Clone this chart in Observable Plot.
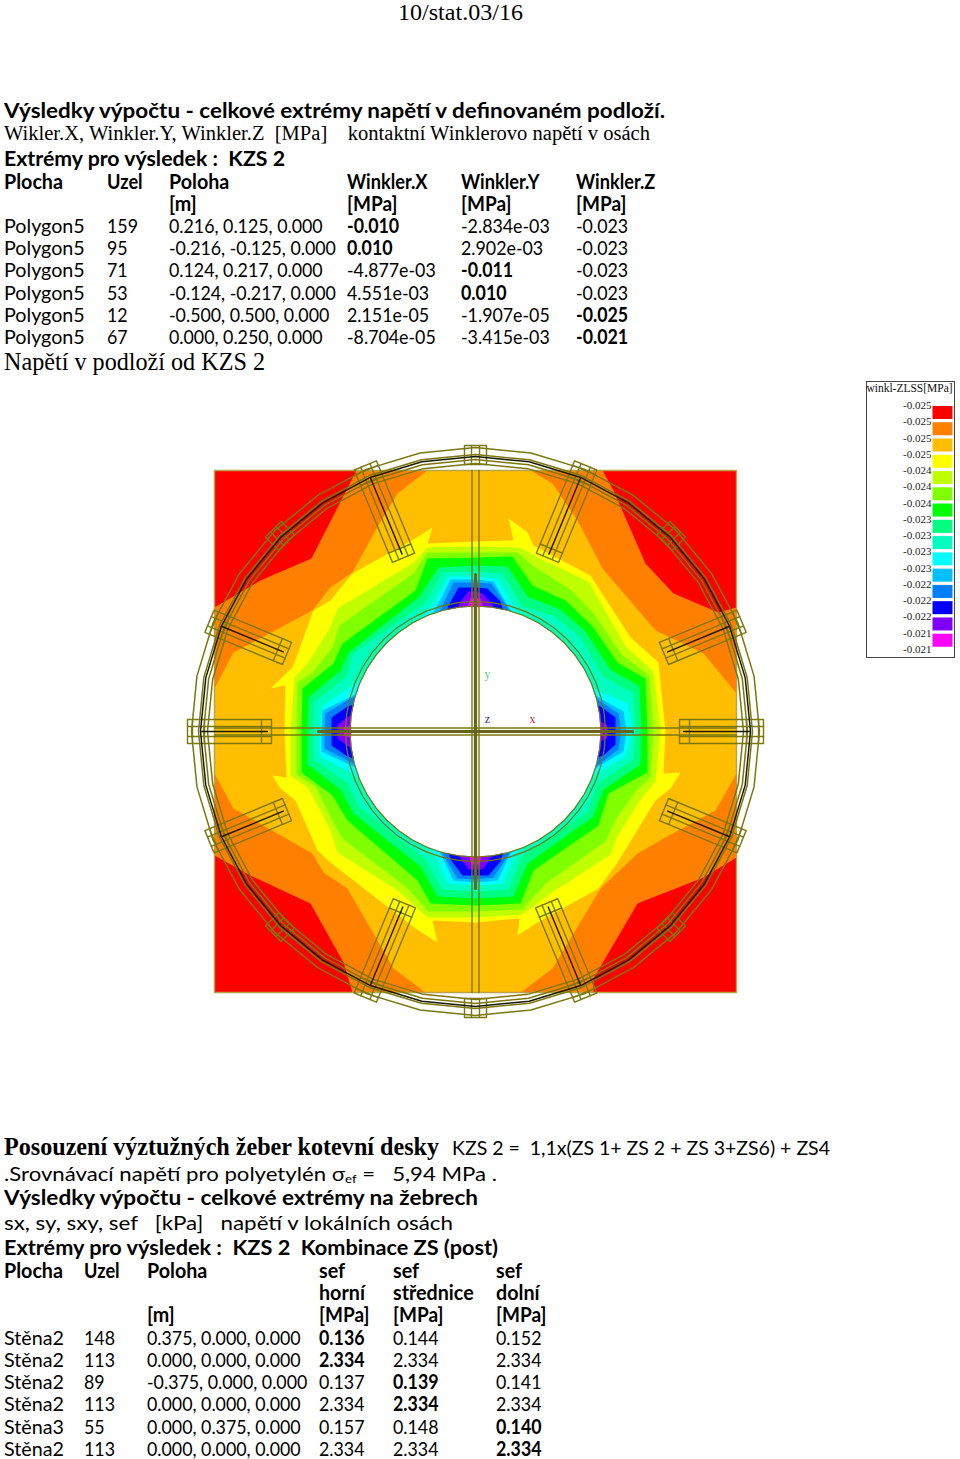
<!DOCTYPE html>
<html><head><meta charset="utf-8">
<script src="https://cdn.jsdelivr.net/npm/d3@7"></script>
<script src="https://cdn.jsdelivr.net/npm/@observablehq/plot@0.6"></script>
<style>
html,body{margin:0;padding:0;background:#fff}
#page{position:relative;width:960px;height:1459px;overflow:hidden;background:#fff;color:#000}
.t{position:absolute;white-space:pre;transform-origin:0 50%;line-height:1;font-family:Lato,"Open Sans",sans-serif;font-size:20px}
.b{font-weight:700}
.s{font-family:"Liberation Serif",serif}
sub{font-size:.6em;line-height:0;vertical-align:-.15em}
</style></head><body><div id="page"></div>
<script>
// ---------- text content ----------
const pageHeader = "10/stat.03/16";
const table1Head = [["Plocha","Uzel","Poloha","Winkler.X","Winkler.Y","Winkler.Z"],["","","[m]","[MPa]","[MPa]","[MPa]"]];
const table1Rows = [
 ["Polygon5","159","0.216, 0.125, 0.000","-0.010","-2.834e-03","-0.023"],
 ["Polygon5","95","-0.216, -0.125, 0.000","0.010","2.902e-03","-0.023"],
 ["Polygon5","71","0.124, 0.217, 0.000","-4.877e-03","-0.011","-0.023"],
 ["Polygon5","53","-0.124, -0.217, 0.000","4.551e-03","0.010","-0.023"],
 ["Polygon5","12","-0.500, 0.500, 0.000","2.151e-05","-1.907e-05","-0.025"],
 ["Polygon5","67","0.000, 0.250, 0.000","-8.704e-05","-3.415e-03","-0.021"]];
const table1Bold = [[0,3],[1,3],[2,4],[3,4],[4,5],[5,5]];
const table2Head = [["Plocha","Uzel","Poloha","sef","sef","sef"],["","","","horní","střednice","dolní"],["","","[m]","[MPa]","[MPa]","[MPa]"]];
const table2Rows = [
 ["Stěna2","148","0.375, 0.000, 0.000","0.136","0.144","0.152"],
 ["Stěna2","113","0.000, 0.000, 0.000","2.334","2.334","2.334"],
 ["Stěna2","89","-0.375, 0.000, 0.000","0.137","0.139","0.141"],
 ["Stěna2","113","0.000, 0.000, 0.000","2.334","2.334","2.334"],
 ["Stěna3","55","0.000, 0.375, 0.000","0.157","0.148","0.140"],
 ["Stěna2","113","0.000, 0.000, 0.000","2.334","2.334","2.334"]];
const table2Bold = [[0,3],[1,3],[2,4],[3,4],[4,5],[5,5]];

// ---------- legend ----------
const legendTitle = "winkl-ZLSS[MPa]";
const legendLabels = ["-0.025","-0.025","-0.025","-0.025","-0.024","-0.024","-0.024","-0.023","-0.023","-0.023","-0.023","-0.022","-0.022","-0.022","-0.021","-0.021"];
const bandNames = ["red","orange","amber","yellow","lime","chartreuse","green","spring","aqua","cyan","sky","azure","blue","violet","magenta"];
const bandColors = ["#ff0000","#ff8000","#ffbf00","#ffff00","#bfff00","#80ff00","#00ff00","#00ff80","#00ffbf","#00ffff","#00bfff","#0080ff","#0000ff","#8000ff","#ff00ff"];

// ---------- contour boundaries, in 1/522 m from the plate centre ----------
const contourRed = [[-261,261],[-261,-261],[261,-261],[261,261]];
const contourOrange = [[-119,261],[-164,173],[-215,151],[-261,124],[-261,-124],[-225,-144],[-165,-172],[-132,-231],[-123,-261],[118,-261],[118,-247],[162,-172],[228,-146],[261,-126],[261,124],[243,119],[198,138],[170,168],[138,241],[127,261]];
const contourAmber = [[-48,261],[-78,238],[-100,201],[-123,159],[-145,144],[-163,121],[-195,104],[-242,79],[-261,43],[-261,-42],[-242,-77],[-163,-122],[-152,-141],[-128,-157],[-98,-209],[-82,-237],[-50,-261],[45,-261],[77,-237],[98,-202],[125,-157],[162,-122],[188,-107],[240,-79],[261,-42],[261,38],[228,78],[180,101],[127,163],[102,211],[77,248],[55,261]];
const contourYellow = [[0,190],[-48,188],[-43,204],[-60,193],[-123,158],[-145,131],[-162,121],[-183,64],[-205,43],[-190,46],[-191,0],[-189,-46],[-203,-44],[-195,-57],[-180,-69],[-158,-119],[-145,-131],[-60,-197],[-38,-211],[-43,-189],[0,-191],[44,-187],[42,-204],[62,-191],[123,-157],[142,-131],[180,-69],[195,-57],[205,-41],[188,-42],[190,0],[183,69],[155,94],[115,156],[58,186],[52,199],[33,213],[38,191]];
const contourLime = [[0,185],[-48,184],[-63,168],[-138,123],[-147,101],[-168,68],[-181,54],[-185,0],[-185,-44],[-167,-57],[-145,-99],[-138,-121],[-78,-159],[-48,-186],[0,-186],[47,-183],[75,-162],[135,-123],[142,-105],[165,-68],[180,-50],[185,0],[178,60],[150,85],[113,150],[60,175],[45,184]];
const contourChartreuse = [[0,179],[-48,179],[-62,158],[-136,106],[-143,84],[-163,59],[-178,49],[-179,0],[-179,-43],[-160,-55],[-140,-95],[-132,-108],[-70,-155],[-47,-180],[0,-180],[47,-178],[70,-152],[130,-110],[140,-88],[160,-60],[175,-46],[178,0],[174,56],[146,77],[118,118],[95,142],[58,165],[42,179]];
const contourGreen = [[0,174],[-48,173],[-60,141],[-133,88],[-142,68],[-173,43],[-174,0],[-174,-41],[-143,-64],[-128,-89],[-58,-149],[-45,-172],[0,-174],[45,-172],[58,-139],[123,-94],[133,-62],[172,-41],[172,0],[170,53],[142,69],[118,104],[90,131],[57,146],[37,175]];
const contourSpring = [[0,166],[-37,164],[-57,134],[-127,79],[-135,61],[-167,34],[-168,0],[-168,-33],[-135,-58],[-122,-82],[-55,-135],[-38,-165],[0,-167],[38,-165],[52,-132],[118,-85],[128,-58],[165,-33],[166,0],[164,45],[135,62],[110,100],[85,122],[52,135],[32,165]];
const contourAqua = [[0,160],[-33,159],[-50,129],[-122,78],[-130,54],[-162,29],[-162,0],[-162,-28],[-128,-52],[-116,-76],[-50,-128],[-33,-158],[0,-160],[33,-158],[46,-125],[112,-80],[122,-52],[158,-28],[160,0],[158,38],[128,55],[104,95],[80,115],[47,125],[27,158]];
const contourCyan = [[0,155],[-27,155],[-42,128],[-80,80],[-124,45],[-153,26],[-156,0],[-156,-25],[-122,-42],[-80,-80],[-42,-122],[-27,-152],[0,-154],[27,-152],[40,-122],[80,-80],[116,-45],[150,-25],[157,0],[152,28],[120,42],[80,80],[40,122],[22,153]];
const contourSky = [[0,152],[-25,152],[-37,128],[-70,70],[-120,37],[-153,21],[-154,0],[-154,-20],[-120,-36],[-70,-70],[-36,-120],[-22,-149],[0,-151],[22,-149],[36,-120],[70,-70],[118,-38],[148,-20],[151,0],[148,20],[118,37],[70,70],[36,120],[18,150]];
const contourAzure = [[0,149],[-22,149],[-33,126],[-60,60],[-125,33],[-150,18],[-151,0],[-151,-17],[-122,-32],[-60,-60],[-32,-124],[-18,-147],[0,-148],[18,-146],[34,-122],[60,-60],[122,-34],[143,-18],[146,0],[143,18],[122,32],[60,60],[32,124],[16,148]];
const contourBlue = [[0,144],[-17,144],[-27,126],[-50,50],[-128,25],[-144,14],[-144,0],[-144,-14],[-128,-25],[-50,-50],[-25,-128],[-13,-144],[0,-144],[13,-144],[25,-130],[50,-50],[128,-24],[140,-13],[140,0],[140,14],[125,25],[50,50],[25,130],[12,143]];
const contourViolet = [[0,140],[-7,140],[-17,127],[-30,30],[-127,15],[-138,7],[-138,0],[-138,-7],[-127,-15],[-30,-30],[-15,-127],[-7,-138],[0,-138],[7,-138],[15,-127],[30,-30],[122,-12],[132,-6],[132,0],[132,6],[122,12],[30,30],[17,127],[7,138]];
const contourMagenta = [[0,133],[-5,133],[-10,118],[-20,20],[-118,8],[-132,4],[-132,-4],[-118,-8],[-20,-20],[-8,-118],[-4,-133],[4,-133],[8,-118],[20,-20],[118,-7],[127,-3],[127,3],[118,7],[20,20],[10,118],[5,133]];
const contours = [contourRed,contourOrange,contourAmber,contourYellow,contourLime,contourChartreuse,contourGreen,contourSpring,contourAqua,contourCyan,contourSky,contourAzure,contourBlue,contourViolet,contourMagenta];

// ---------- steel geometry, same units ----------
const holeRadius = 125;
const holeRingRadii = [125.5, 130];
const flangeRingRadii = [284, 277, 272, 268];
const webRingRadius = 275;
const longRibAngles = [0,22.5,67.5,112.5,157.5,180,202.5,247.5,292.5,337.5];
const longRibInnerRadii = [204,204,188,188,204,204,204,186,186,204];
const tabAngles = [45,90,135,225,270,315];
const tabOutlines = [[[267,-11],[286,-11],[286,11],[267,11],[267,-11]],[[267,-4],[286,-4]],[[267,4],[286,4]]];
const crossThin = [[-3.5,-261,-3.5,261],[3.5,-261,3.5,261],[-261,-3.5,261,-3.5],[-261,3.5,261,3.5]];
const crossThick = [[0,-157,0,157],[-157,0,157,0]];
const axisLabels = [{t:"y",u:12,v:57,c:"#66cc77"},{t:"z",u:12,v:12,c:"#303090"},{t:"x",u:57,v:12,c:"#c03030"}];

// ---------- page layout ----------
const page = document.getElementById("page");
const UNIT = 1/522;                       // one drawing unit, in metres
const m = a => a*UNIT;
const OLIVE = "#7a780c";

const plateData = contours.flatMap((c,i)=>c.concat([c[0]]).map(p=>({band:bandNames[i],x:m(p[0]),y:m(p[1])})));
const polar = (r,t,a)=>{const q=a*Math.PI/180;return {x:m(r*Math.cos(q)-t*Math.sin(q)),y:m(r*Math.sin(q)+t*Math.cos(q))}};
const ringAngles = d3.range(0,360.1,11.25), fineAngles = d3.range(0,360.1,7.5);
const ring = (r,angles,k)=>angles.map(a=>({...polar(r,0,a),k}));
const holePoly = ring(holeRadius,fineAngles,"h");
const holeRings = holeRingRadii.flatMap((r,i)=>ring(r,fineAngles,"hr"+i));
const flange = flangeRingRadii.flatMap((r,i)=>ring(r,ringAngles,"f"+i));
const web = ring(webRingRadius,ringAngles,"w");
const ribShape = r0=>[[[r0,-12],[288,-12],[288,12],[r0,12],[r0,-12]],[[r0,-5],[288,-5]],[[r0,5],[288,5]],[[r0+10,-12],[r0+10,12]],[[271,-12],[271,12]],[[283,-12],[283,12]]];
const ribLines = longRibAngles.flatMap((a,j)=>ribShape(longRibInnerRadii[j]).flatMap((o,i)=>o.map(p=>({...polar(p[0],p[1],a),k:a+"r"+i}))))
  .concat(tabAngles.flatMap(a=>tabOutlines.flatMap((o,i)=>o.map(p=>({...polar(p[0],p[1],a),k:a+"t"+i})))));
const ribWebs = longRibAngles.flatMap((a,j)=>[[longRibInnerRadii[j]+4,0],[275,0]].map(p=>({...polar(p[0],p[1],a),k:a})));
const seg = (l)=>l.flatMap((s,i)=>[{x:m(s[0]),y:m(s[1]),k:i},{x:m(s[2]),y:m(s[3]),k:i}]);

const chart = Plot.plot({
  width:960,height:600,margin:0,
  x:{domain:[-.5,.5],range:[214,736],axis:null},
  y:{domain:[-.5,.5],range:[562,40],axis:null},
  color:{domain:bandNames,range:bandColors},
  style:{background:"transparent",overflow:"visible"},
  marks:[
    Plot.line(plateData,{x:"x",y:"y",z:"band",fill:"band",stroke:null,curve:"linear"}),
    Plot.line(contourRed.concat([contourRed[0]]).map(p=>({x:m(p[0]),y:m(p[1])})),{x:"x",y:"y",stroke:"#b8a24a",strokeWidth:1.4}),
    Plot.line(holePoly,{x:"x",y:"y",fill:"#fff",stroke:null}),
    Plot.line(holeRings,{x:"x",y:"y",z:"k",stroke:OLIVE,strokeWidth:1.2}),
    Plot.line(seg(crossThin),{x:"x",y:"y",z:"k",stroke:OLIVE,strokeWidth:1.4}),
    Plot.line(seg(crossThick),{x:"x",y:"y",z:"k",stroke:"#666518",strokeWidth:3.2}),
    Plot.line(flange,{x:"x",y:"y",z:"k",stroke:OLIVE,strokeWidth:1.5}),
    Plot.line(ribLines,{x:"x",y:"y",z:"k",stroke:OLIVE,strokeWidth:1.4}),
    Plot.line(web,{x:"x",y:"y",stroke:"#1a1a00",strokeWidth:1.5}),
    Plot.line(ribWebs,{x:"x",y:"y",z:"k",stroke:"#1a1a00",strokeWidth:1.4}),
    Plot.text(axisLabels,{x:d=>m(d.u),y:d=>m(d.v),text:"t",fill:"c",fontSize:12,fontFamily:"Liberation Serif"})
  ]
});
chart.style.position="absolute";chart.style.left="0";chart.style.top="430px";
page.appendChild(chart);

const legendSwatches = bandNames.map((b,i)=>({b,i}));
const legend = Plot.plot({
  width:90,height:278,marginLeft:1,marginRight:1,marginTop:1,marginBottom:1,
  x:{domain:[0,1],range:[67.5,87.5],axis:null},
  y:{domain:[0,15],range:[25,269],axis:null},
  color:{domain:bandNames,range:bandColors},
  style:{background:"#fff",overflow:"visible"},
  marks:[
    Plot.frame({stroke:"#444",strokeWidth:1}),
    Plot.rect(legendSwatches,{x1:0,x2:1,y1:d=>d.i+.06,y2:d=>d.i+.86,fill:"b"}),
    Plot.text(legendLabels,{x:0,y:(d,i)=>i,text:d=>d,textAnchor:"end",dx:-1.5,fontSize:11,fontFamily:"Liberation Serif",fill:"#222"}),
    Plot.text([legendTitle],{x:0,y:0,text:d=>d,textAnchor:"middle",dx:-23.5,dy:-17,fontSize:11.5,fontFamily:"Liberation Serif",fill:"#111"})
  ]
});
legend.style.position="absolute";legend.style.left="865px";legend.style.top="380px";
page.appendChild(legend);

// ---------- text placement ----------
function put(html,x,cy,cls,w,size){
  const e=document.createElement("span");
  e.className="t "+(cls||"");e.innerHTML=html;
  if(size)e.style.fontSize=size+"px";
  e.style.left=x+"px";
  page.appendChild(e);
  const h=e.offsetHeight;e.style.top=(cy-h/2)+"px";
  if(w){const bw=e.getBoundingClientRect().width;e.style.transform="scaleX("+(w/bw)+")";}
  return e;
}
put(pageHeader,398,12.5,"s",125,23);
put("Výsledky výpočtu - celkové extrémy napětí v definovaném podloží.",4,110,"b",661);
put("Wikler.X, Winkler.Y, Winkler.Z  [MPa]    kontaktní Winklerovo napětí v osách",4,133.5,"s",646,20.5);
put("Extrémy pro výsledek :  KZS 2",4,158,"b",281);
put("Napětí v podloží od KZS 2",4,361.5,"s",261,25);
put("Posouzení výztužných žeber kotevní desky",4,1146.5,"s b",435,25);
put("KZS 2 =  1,1x(ZS 1+ ZS 2 + ZS 3+ZS6) + ZS4",452,1147,"",378);
put(".Srovnávací napětí pro polyetylén σ<sub>ef</sub> =   5,94 MPa .",4,1173,"",493);
put("Výsledky výpočtu - celkové extrémy na žebrech",4,1197,"b",474);
put("sx, sy, sxy, sef   [kPa]   napětí v lokálních osách",4,1222,"",449);
put("Extrémy pro výsledek :  KZS 2  Kombinace ZS (post)",4,1247,"b",494);

const col1=[4,107,169,347,461,576], head1Y=[181,203], row1Y=[225,247,269,292,314,336];
const col2=[4,84,147,319,393,496], head2Y=[1270,1292,1314], row2Y=[1337,1359,1381,1403,1426,1448];
const NUM=0.89, NARROW=0.91, BRACKET=0.95, WORD=0.985;
function cell(txt,x,y,bold){
  if(!txt)return;
  const e=put(txt,x,y,bold?"b":"");
  const k=/^[-\d.,e ]+$/.test(txt)?NUM:/Winkler|Uzel/.test(txt)?NARROW:/MPa/.test(txt)?BRACKET:WORD;
  e.style.transform="scaleX("+k+")";
}
table1Head.forEach((r,i)=>r.forEach((t,j)=>cell(t,col1[j],head1Y[i],true)));
table1Rows.forEach((r,i)=>r.forEach((t,j)=>cell(t,col1[j],row1Y[i],table1Bold.some(b=>b[0]==i&&b[1]==j))));
table2Head.forEach((r,i)=>r.forEach((t,j)=>cell(t,col2[j],head2Y[i],true)));
table2Rows.forEach((r,i)=>r.forEach((t,j)=>cell(t,col2[j],row2Y[i],table2Bold.some(b=>b[0]==i&&b[1]==j))));
</script></body></html>
